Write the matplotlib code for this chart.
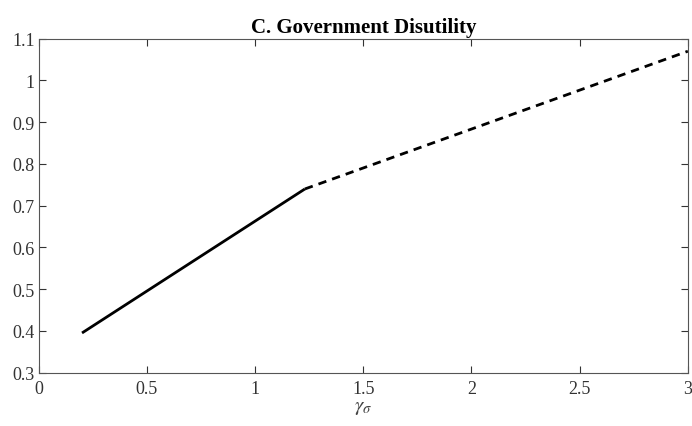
import matplotlib
matplotlib.use('Agg')
import matplotlib.pyplot as plt

plt.rcParams['font.family'] = ['Liberation Serif', 'DejaVu Serif']
plt.rcParams['mathtext.fontset'] = 'stix'

# solid segment (gamma_sigma below threshold), dashed segment above
x_solid = [0.2, 1.23]
y_solid = [0.395, 0.74]
x_dash = [1.23, 3.0]
y_dash = [0.74, 1.07]

xticks = [0, 0.5, 1, 1.5, 2, 2.5, 3]
xtick_labels = ['0', '0.5', '1', '1.5', '2', '2.5', '3']
yticks = [0.3, 0.4, 0.5, 0.6, 0.7, 0.8, 0.9, 1.0, 1.1]
ytick_labels = ['0.3', '0.4', '0.5', '0.6', '0.7', '0.8', '0.9', '1', '1.1']

fig = plt.figure(figsize=(6.92, 4.27), dpi=100)
ax = fig.add_axes([0.056, 0.125, 0.938, 0.782])

ax.plot(x_solid, y_solid, color='black', linewidth=2, solid_capstyle='butt')
ax.plot(x_dash, y_dash, color='black', linewidth=2, linestyle=(0, (3, 2.2)))

ax.set_xlim(0, 3)
ax.set_ylim(0.3, 1.1)
ax.set_xticks(xticks)
ax.set_xticklabels(xtick_labels)
ax.set_yticks(yticks)
ax.set_yticklabels(ytick_labels)
ax.tick_params(direction='in', length=5, width=0.8, labelsize=13, top=True, right=True,
               colors='#333333', labelcolor='#333333')
ax.tick_params(axis='x', pad=5)
ax.tick_params(axis='y', pad=3)
for s in ax.spines.values():
    s.set_color('#555555')
    s.set_linewidth(0.8)

ax.set_xlabel(r'$\gamma_{\sigma}$', fontsize=15, color='#444444', labelpad=0)
ax.set_title('C. Government Disutility', fontsize=15, fontweight='bold', pad=5)

fig.savefig('out.png', dpi=100)
